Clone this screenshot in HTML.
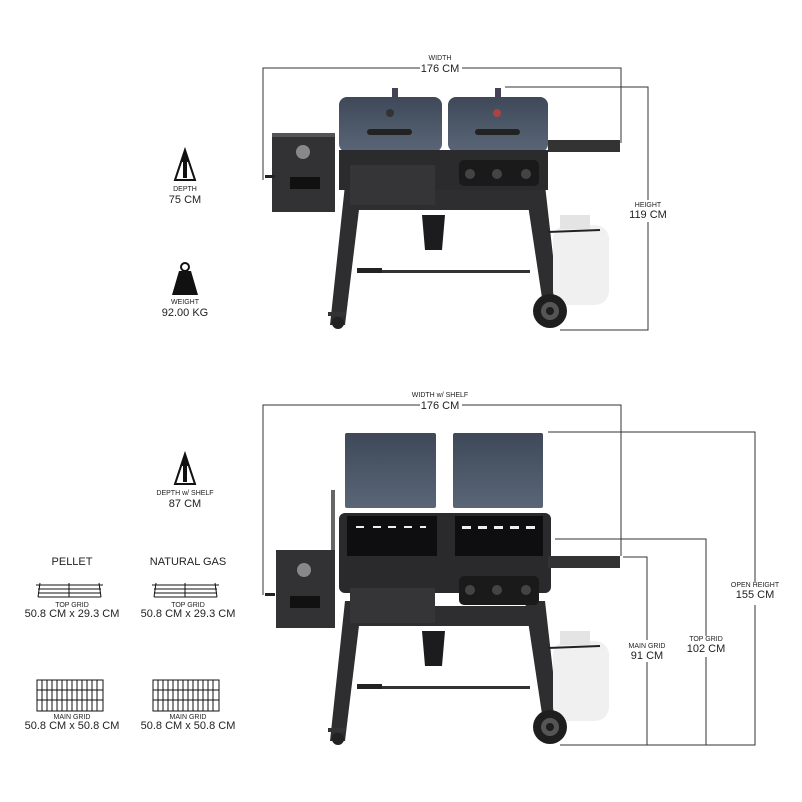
<!DOCTYPE html>
<html><head><style>
html,body{margin:0;padding:0;background:#fff;}
svg{display:block;}
text{font-family:"Liberation Sans",sans-serif;fill:#222;text-anchor:middle;}
.s{font-size:7px;}
.b{font-size:11px;}
.ln{stroke:#333;stroke-width:1;fill:none;}
</style></head><body>
<svg width="802" height="802" viewBox="0 0 802 802" xmlns="http://www.w3.org/2000/svg">
<defs>
<linearGradient id="lid" x1="0" y1="0" x2="0" y2="1">
<stop offset="0" stop-color="#3e4858"/><stop offset="1" stop-color="#5a6677"/></linearGradient>
<g id="base">
<!-- legs -->
<polygon points="345,185 362,185 345,325 330,325" fill="#2e2e30"/>
<polygon points="525,185 545,185 560,318 545,318" fill="#2e2e30"/>
<rect x="350" y="190" width="190" height="20" fill="#2e2e30"/>
<rect x="360" y="270" width="170" height="3" fill="#333"/>
<rect x="357" y="268" width="25" height="5" fill="#222"/>
<polygon points="422,215 445,215 442,250 425,250" fill="#1c1c1e"/>
<!-- tank -->
<rect x="553" y="225" width="56" height="80" rx="14" fill="#f0f0f0"/>
<rect x="560" y="215" width="30" height="14" fill="#e4e4e4"/>
<path d="M548 232 L600 230" stroke="#222" stroke-width="2"/>
<!-- wheel -->
<circle cx="550" cy="311" r="17" fill="#1e1e1e"/>
<circle cx="550" cy="311" r="9" fill="#555"/>
<circle cx="550" cy="311" r="4" fill="#1e1e1e"/>
<circle cx="338" cy="323" r="6" fill="#222"/>
<rect x="328" y="312" width="18" height="4" fill="#333"/>
</g>
</defs>

<!-- ===== TOP ===== -->
<text x="440" y="60" class="s">WIDTH</text>
<text x="440" y="72" class="b">176 CM</text>
<path class="ln" d="M263 180 V68 H420 M462 68 H621 V143"/>
<path class="ln" d="M505 87 H648 V200 M648 222 V330 H560"/>
<text x="648" y="207" class="s">HEIGHT</text>
<text x="648" y="218" class="b">119 CM</text>

<!-- depth icon -->
<polygon points="185,150 175,180 195,180" fill="#fff" stroke="#111" stroke-width="2"/>
<polygon points="185,152 181,162 189,162" fill="#111"/>
<rect x="183" y="160" width="4" height="18" fill="#111"/>
<text x="185" y="191" class="s">DEPTH</text>
<text x="185" y="203" class="b">75 CM</text>
<!-- weight -->
<circle cx="185" cy="267" r="4" fill="none" stroke="#111" stroke-width="2"/>
<polygon points="179,271 191,271 198,295 172,295" fill="#111"/>
<text x="185" y="304" class="s">WEIGHT</text>
<text x="185" y="316" class="b">92.00 KG</text>

<!-- grill top -->
<use href="#base"/>
<rect x="339" y="97" width="103" height="55" rx="8" fill="url(#lid)"/>
<rect x="448" y="97" width="100" height="55" rx="8" fill="url(#lid)"/>
<rect x="367" y="129" width="45" height="6" rx="3" fill="#222"/>
<rect x="475" y="129" width="45" height="6" rx="3" fill="#222"/>
<circle cx="390" cy="113" r="4" fill="#333"/><circle cx="497" cy="113" r="4" fill="#a44"/>
<rect x="392" y="88" width="6" height="10" fill="#445"/><rect x="495" y="88" width="6" height="10" fill="#445"/>
<rect x="339" y="150" width="209" height="40" fill="#2b2b2d"/>
<rect x="548" y="140" width="72" height="12" fill="#333"/>
<rect x="350" y="165" width="85" height="40" fill="#353537"/>
<rect x="459" y="160" width="80" height="26" rx="5" fill="#1a1a1a"/>
<circle cx="470" cy="174" r="5" fill="#444"/><circle cx="497" cy="174" r="5" fill="#444"/><circle cx="526" cy="174" r="5" fill="#444"/>
<rect x="272" y="133" width="63" height="79" fill="#323234"/>
<rect x="272" y="133" width="63" height="4" fill="#555"/>
<circle cx="303" cy="152" r="7" fill="#888"/>
<rect x="290" y="177" width="30" height="12" fill="#111"/>
<rect x="265" y="175" width="10" height="3" fill="#222"/>

<!-- ===== BOTTOM ===== -->
<text x="440" y="397" class="s">WIDTH w/ SHELF</text>
<text x="440" y="409" class="b">176 CM</text>
<path class="ln" d="M263 595 V405 H420 M462 405 H621 V556"/>
<path class="ln" d="M548 432 H755 V583 M755 605 V745 H560"/>
<path class="ln" d="M555 539 H706 V636 M706 657 V745"/>
<path class="ln" d="M623 557 H647 V640 M647 662 V745"/>
<text x="755" y="587" class="s">OPEN HEIGHT</text>
<text x="755" y="598" class="b">155 CM</text>
<text x="706" y="641" class="s">TOP GRID</text>
<text x="706" y="652" class="b">102 CM</text>
<text x="647" y="648" class="s">MAIN GRID</text>
<text x="647" y="659" class="b">91 CM</text>

<polygon points="185,454 175,484 195,484" fill="#fff" stroke="#111" stroke-width="2"/>
<polygon points="185,456 181,466 189,466" fill="#111"/>
<rect x="183" y="464" width="4" height="18" fill="#111"/>
<text x="185" y="495" class="s">DEPTH w/ SHELF</text>
<text x="185" y="507" class="b">87 CM</text>

<text x="72" y="565" class="b">PELLET</text>
<text x="188" y="565" class="b">NATURAL GAS</text>
<g fill="none" stroke="#111" stroke-width="1">
<path d="M36 585 H103 M38 589 H101 M38 593 H101 M38 597 H101 M40 583 L38 597 M99 583 L101 597 M69 583 V597"/>
<path d="M152 585 H219 M154 589 H217 M154 593 H217 M154 597 H217 M156 583 L154 597 M215 583 L217 597 M185 583 V597"/>
<rect x="37" y="680" width="66" height="31"/>
<path d="M37 690 H103 M37 700 H103" />
<path d="M42 680V711M47 680V711M52 680V711M57 680V711M62 680V711M67 680V711M72 680V711M77 680V711M82 680V711M87 680V711M92 680V711M97 680V711"/>
<rect x="153" y="680" width="66" height="31"/>
<path d="M153 690 H219 M153 700 H219" />
<path d="M158 680V711M163 680V711M168 680V711M173 680V711M178 680V711M183 680V711M188 680V711M193 680V711M198 680V711M203 680V711M208 680V711M213 680V711"/>
</g>
<text x="72" y="607" class="s">TOP GRID</text>
<text x="72" y="617" class="b">50.8 CM x 29.3 CM</text>
<text x="188" y="607" class="s">TOP GRID</text>
<text x="188" y="617" class="b">50.8 CM x 29.3 CM</text>
<text x="72" y="719" class="s">MAIN GRID</text>
<text x="72" y="729" class="b">50.8 CM x 50.8 CM</text>
<text x="188" y="719" class="s">MAIN GRID</text>
<text x="188" y="729" class="b">50.8 CM x 50.8 CM</text>

<use href="#base" transform="translate(0,416)"/>
<rect x="345" y="433" width="91" height="75" rx="2" fill="url(#lid)"/>
<rect x="453" y="433" width="90" height="75" rx="2" fill="url(#lid)"/>
<rect x="339" y="513" width="212" height="80" rx="6" fill="#2a2a2c"/>
<rect x="347" y="516" width="90" height="40" fill="#0e0e10"/>
<rect x="455" y="516" width="88" height="40" fill="#0e0e10"/>
<g fill="#eee"><rect x="356" y="526" width="8" height="2"/><rect x="373" y="526" width="8" height="2"/><rect x="388" y="526" width="8" height="2"/><rect x="404" y="526" width="8" height="2"/><rect x="420" y="526" width="6" height="2"/>
<rect x="462" y="526" width="9" height="3"/><rect x="478" y="526" width="9" height="3"/><rect x="494" y="526" width="9" height="3"/><rect x="510" y="526" width="9" height="3"/><rect x="526" y="526" width="9" height="3"/></g>
<rect x="548" y="556" width="72" height="12" fill="#333"/>
<rect x="350" y="588" width="85" height="35" fill="#353537"/>
<rect x="459" y="576" width="80" height="29" rx="5" fill="#1a1a1a"/>
<circle cx="470" cy="590" r="5" fill="#444"/><circle cx="497" cy="590" r="5" fill="#444"/><circle cx="526" cy="590" r="5" fill="#444"/>
<rect x="331" y="490" width="4" height="60" fill="#666"/>
<rect x="276" y="550" width="59" height="78" fill="#323234"/>
<circle cx="304" cy="570" r="7" fill="#888"/>
<rect x="290" y="596" width="30" height="12" fill="#111"/>
<rect x="265" y="593" width="10" height="3" fill="#222"/>
</svg>
</body></html>
